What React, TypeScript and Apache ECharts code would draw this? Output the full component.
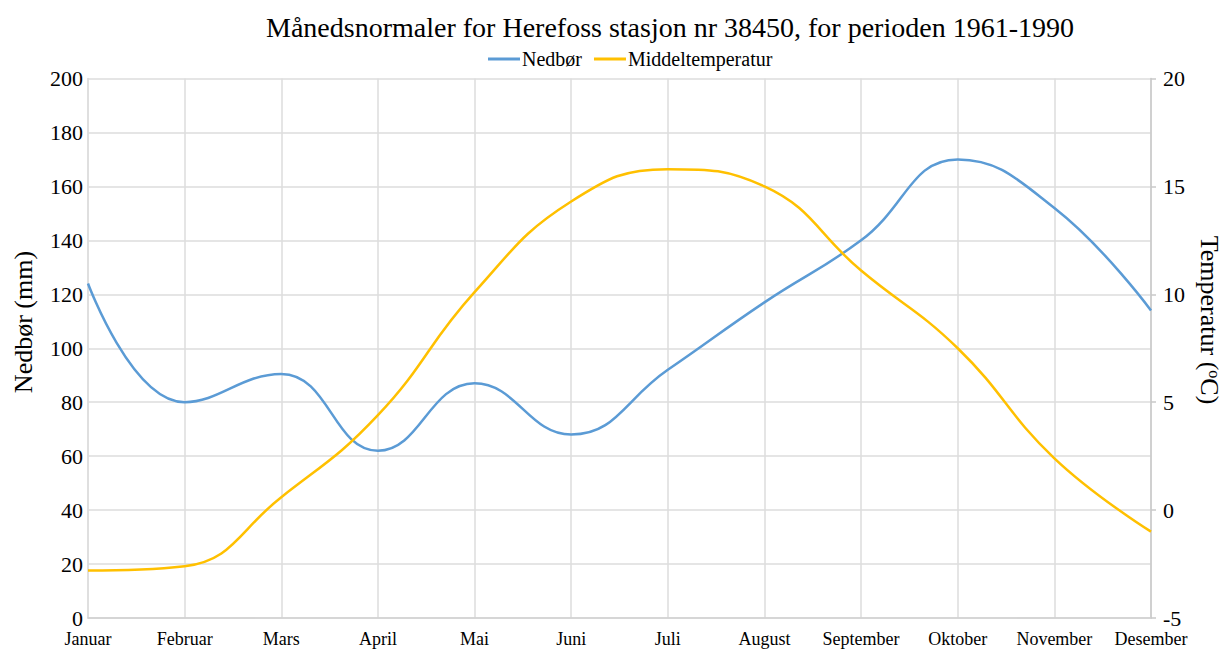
import React, { useEffect, useRef } from "react";
import * as echarts from "echarts";

const months = ["Januar", "Februar", "Mars", "April", "Mai", "Juni", "Juli", "August", "September", "Oktober", "November", "Desember"];
const nedbor = [124, 80, 90.5, 62, 87, 68, 92, 117, 140, 170, 152, 114];
const temperatur = [-2.8, -2.6, 0.6, 4.4, 10.1, 14.3, 15.8, 15.0, 11.1, 7.5, 2.4, -1.0];
const leftTicks = { min: 0, max: 200, interval: 20 };
const rightTicks = { min: -5, max: 20, interval: 5 };

const FONT = "'Liberation Serif', 'Times New Roman', serif";

export default function App() {
  const ref = useRef<HTMLDivElement>(null);
  useEffect(() => {
    if (!ref.current) return;
    const chart = echarts.init(ref.current, null, { renderer: "svg" });
    chart.setOption({
      animation: false,
      textStyle: { fontFamily: FONT },
      title: {
        text: "Månedsnormaler for Herefoss stasjon nr 38450, for perioden 1961-1990",
        left: 665,
        textAlign: "center",
        top: 8,
        textStyle: { fontFamily: FONT, fontSize: 28, fontWeight: "normal", color: "#000" },
      },
      legend: {
        top: 44,
        left: 483,
        itemWidth: 32,
        itemHeight: 3,
        itemGap: 12,
        icon: "rect",
        textStyle: { fontFamily: FONT, fontSize: 20, color: "#000", padding: [0, 0, 0, -3] },
        data: ["Nedbør", "Middeltemperatur"],
      },
      grid: { left: 88, right: 74, top: 78.5, bottom: 32, containLabel: false, outerBoundsMode: "none" },
      graphic: [
        {
          type: "text",
          x: 23,
          y: 322,
          rotation: Math.PI / 2,
          style: {
            text: "Nedbør (mm)",
            font: `26px ${FONT}`,
            fill: "#000",
            align: "center",
            verticalAlign: "middle",
          },
        },
        {
          type: "text",
          x: 1209,
          y: 320,
          rotation: -Math.PI / 2,
          style: {
            text: "Temperatur ({sup|o}C)",
            font: `26px ${FONT}`,
            fill: "#000",
            align: "center",
            verticalAlign: "middle",
            rich: {
              sup: { fontFamily: FONT, fontSize: 16, fill: "#000", padding: [0, 0, 10, 0] },
            },
          },
        },
      ],
      xAxis: {
        type: "category",
        data: months,
        boundaryGap: false,
        axisLine: { lineStyle: { color: "#d0d0d0", width: 1.5 } },
        axisTick: { show: false },
        axisLabel: { color: "#000", fontFamily: FONT, fontSize: 18, lineHeight: 18, margin: 12, interval: 0 },
        splitLine: { show: true, lineStyle: { color: "#dcdcdc", width: 1.5 } },
      },
      yAxis: [
        {
          type: "value",
          ...leftTicks,
          axisLine: { show: true, lineStyle: { color: "#dcdcdc", width: 1.5 } },
          axisTick: { show: false },
          axisLabel: { color: "#000", fontFamily: FONT, fontSize: 22, lineHeight: 19, margin: 5 },
          splitLine: { show: true, lineStyle: { color: "#dcdcdc", width: 1.5 } },
        },
        {
          type: "value",
          ...rightTicks,
          position: "right",
          axisLine: { show: true, lineStyle: { color: "#c8c8c8", width: 1.5 } },
          axisTick: { show: true, length: 5, lineStyle: { color: "#c8c8c8", width: 1.5 } },
          axisLabel: { color: "#000", fontFamily: FONT, fontSize: 22, lineHeight: 19, margin: 12 },
          splitLine: { show: false },
        },
      ],
      series: [
        {
          name: "Nedbør",
          type: "line",
          data: nedbor,
          yAxisIndex: 0,
          smooth: 0.45,
          showSymbol: false,
          symbol: "none",
          lineStyle: { color: "#5B9BD5", width: 2.5 },
          itemStyle: { color: "#5B9BD5" },
        },
        {
          name: "Middeltemperatur",
          type: "line",
          data: temperatur,
          yAxisIndex: 1,
          smooth: 0.45,
          showSymbol: false,
          symbol: "none",
          lineStyle: { color: "#FFC000", width: 2.5 },
          itemStyle: { color: "#FFC000" },
        },
      ],
    });
    return () => chart.dispose();
  }, []);
  return <div ref={ref} style={{ width: 1225, height: 650, position: "absolute", left: 0, top: 0 }} />;
}
